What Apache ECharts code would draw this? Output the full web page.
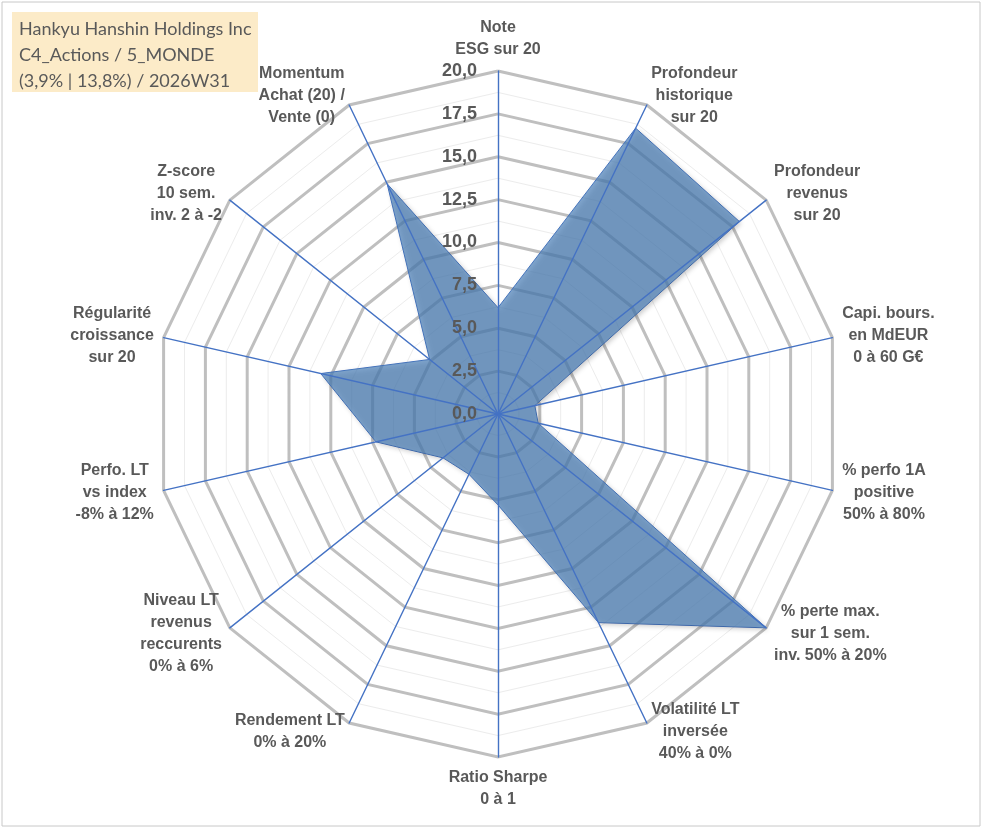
<!DOCTYPE html>
<html>
<head>
<meta charset="utf-8">
<title>Radar</title>
<script src="https://cdn.jsdelivr.net/npm/echarts@6/dist/echarts.min.js"></script>
<style>
  html, body { margin: 0; padding: 0; background: #fff; }
  #chart { width: 991px; height: 830px; }
</style>
</head>
<body>
<div id="chart"></div>
<script>
// axes listed clockwise, starting from the top
var axisNames = [
  'Note\nESG sur 20',
  'Profondeur\nhistorique\nsur 20',
  'Profondeur\nrevenus\nsur 20',
  'Capi. bours.\nen MdEUR\n0 à 60 G€',
  '% perfo 1A\npositive\n50% à 80%',
  '% perte max.\nsur 1 sem.\ninv. 50% à 20%',
  'Volatilité LT\ninversée\n40% à 0%',
  'Ratio Sharpe\n0 à 1',
  'Rendement LT\n0% à 20%',
  'Niveau LT\nrevenus\nreccurents\n0% à 6%',
  'Perfo. LT\nvs index\n-8% à 12%',
  'Régularité\ncroissance\nsur 20',
  'Z-score\n10 sem.\ninv. 2 à -2',
  'Momentum\nAchat (20) /\nVente (0)'
];
var scores = [6.2, 18.5, 18.0, 2.2, 2.4, 20.0, 13.5, 5.3, 3.9, 4.1, 7.3, 10.6, 5.1, 14.9];
var scaleMax = 20;
var scaleStep = 2.5;
var titleLines = [
  'Hankyu Hanshin Holdings Inc',
  'C4_Actions / 5_MONDE',
  '(3,9% | 13,8%) / 2026W31'
];

var CENTER = [498, 414];
var RADIUS = 343;
var TXT = '#595959';
var BLUE = '#4472C4';
var FONT = 'Arial, "Liberation Sans", sans-serif';

// echarts lays indicators out counter-clockwise, keep the first and flip the rest
function ccw(arr) {
  return [arr[0]].concat(arr.slice(1).reverse());
}

var indicators = ccw(axisNames).map(function (n) {
  return { name: n, min: 0, max: scaleMax };
});

var chart = echarts.init(document.getElementById('chart'));

var baseRadar = {
  center: CENTER,
  radius: RADIUS,
  startAngle: 90,
  shape: 'polygon',
  indicator: indicators,
  axisName: { show: false },
  axisLine: { show: false },
  axisTick: { show: false },
  axisLabel: { show: false },
  splitArea: { show: false },
  splitLine: { show: false }
};

var option = {
  backgroundColor: '#fff',
  animation: false,
  radar: [
    // fine rings
    Object.assign({}, baseRadar, {
      z: 0,
      splitNumber: scaleMax / scaleStep * 2,
      splitLine: { show: true, lineStyle: { color: '#ececec', width: 1 } }
    }),
    // main rings + names
    Object.assign({}, baseRadar, {
      z: 1,
      splitNumber: scaleMax / scaleStep,
      splitLine: { show: true, lineStyle: { color: '#bfbfbf', width: 3 } },
      axisNameGap: 10,
      axisName: {
        show: true,
        formatter: function (name) {
          return name.split('\n').map(function (l) { return '{c|' + l + '}'; }).join('\n');
        },
        rich: {
          c: {
            align: 'center',
            color: TXT,
            fontFamily: FONT,
            fontWeight: 'bold',
            fontSize: 16,
            lineHeight: 22
          }
        }
      }
    }),
    // spokes on top of the area
    Object.assign({}, baseRadar, {
      z: 5,
      axisLine: { show: true, lineStyle: { color: BLUE, width: 1.4 } }
    })
  ],
  polar: { center: CENTER, radius: RADIUS },
  angleAxis: { type: 'value', min: 0, max: 360, startAngle: 90, show: false },
  radiusAxis: {
    type: 'value',
    min: 0,
    max: scaleMax,
    interval: scaleStep,
    z: 6,
    axisLine: { show: false },
    axisTick: { show: false },
    splitLine: { show: false },
    axisLabel: {
      margin: 21,
      color: TXT,
      fontFamily: FONT,
      fontWeight: 'bold',
      fontSize: 18,
      formatter: function (v) { return v.toFixed(1).replace('.', ','); }
    }
  },
  series: [{
    type: 'radar',
    radarIndex: 1,
    z: 2,
    symbol: 'none',
    lineStyle: { color: BLUE, width: 1 },
    areaStyle: {
      color: '#4a7fb8',
      opacity: 0.7,
      shadowBlur: 5,
      shadowColor: 'rgba(0,0,0,0.3)',
      shadowOffsetX: 2,
      shadowOffsetY: 2
    },
    data: [{ value: ccw(scores), name: titleLines[0] }]
  }],
  graphic: [
    {
      type: 'rect',
      z: 0,
      silent: true,
      shape: { x: 2, y: 2, width: 978, height: 824 },
      style: { fill: 'none', stroke: '#c8c8c8', lineWidth: 1 }
    },
    {
      type: 'group',
      left: 12,
      top: 12,
      z: 100,
      children: [
        {
          type: 'rect',
          shape: { x: 0, y: 0, width: 246, height: 80 },
          style: { fill: 'rgba(251,224,170,0.65)' }
        },
        {
          type: 'text',
          left: 7,
          top: 4,
          style: {
            text: titleLines.join('\n'),
            fill: TXT,
            font: '18px Lato, "Open Sans", sans-serif',
            lineHeight: 26
          }
        }
      ]
    }
  ]
};

chart.setOption(option);
</script>
</body>
</html>
